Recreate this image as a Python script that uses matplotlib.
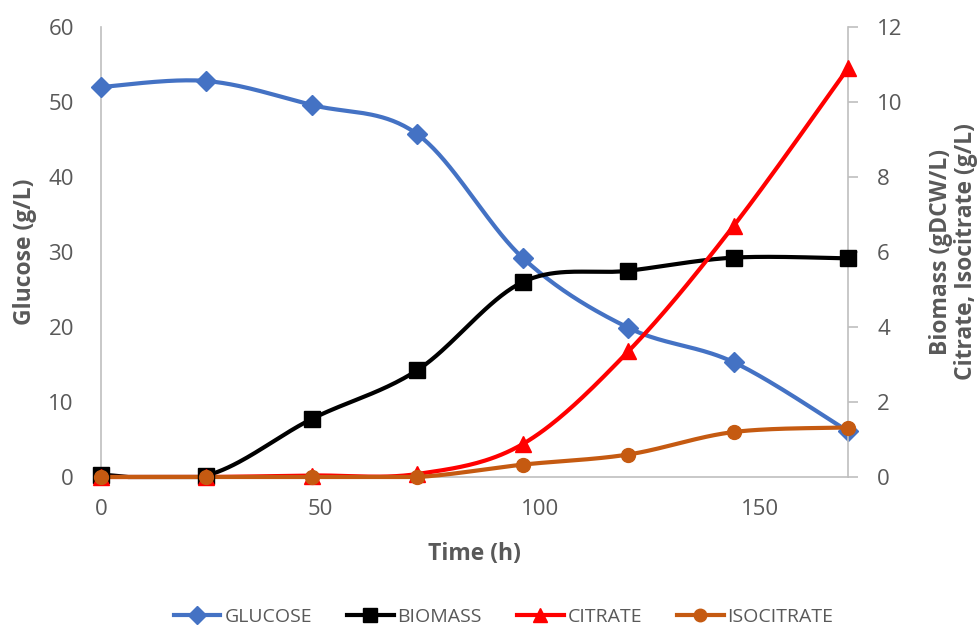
import numpy as np
import matplotlib
matplotlib.use("Agg")
import matplotlib.pyplot as plt
from matplotlib.lines import Line2D

time_h = [0, 24, 48, 72, 96, 120, 144, 170]
glucose = [52.0, 52.8, 49.6, 45.7, 29.2, 19.9, 15.3, 6.1]
biomass = [0.06, 0.04, 1.55, 2.85, 5.2, 5.5, 5.85, 5.83]
citrate = [0.0, 0.0, 0.04, 0.08, 0.88, 3.35, 6.7, 10.9]
isocitrate = [0.0, 0.0, 0.0, 0.0, 0.33, 0.6, 1.2, 1.32]

x_ticks = [0, 50, 100, 150]
left_ticks = [0, 10, 20, 30, 40, 50, 60]
right_ticks = [0, 2, 4, 6, 8, 10, 12]

GREY = "#595959"
AX = "#BFBFBF"
plt.rcParams['font.family'] = ['Open Sans', 'DejaVu Sans']


def smooth(x, y, n=40):
    x = np.asarray(x, float); y = np.asarray(y, float)
    px = np.concatenate([[x[0]], x, [x[-1]]])
    py = np.concatenate([[y[0]], y, [y[-1]]])
    xs, ys = [], []
    t = np.linspace(0, 1, n)
    for i in range(1, len(px) - 2):
        p0 = np.array([px[i], py[i]]); p3 = np.array([px[i + 1], py[i + 1]])
        c1 = p0 + (np.array([px[i + 1], py[i + 1]]) - np.array([px[i - 1], py[i - 1]])) / 6
        c2 = p3 - (np.array([px[i + 2], py[i + 2]]) - np.array([px[i], py[i]])) / 6
        b = ((1 - t) ** 3)[:, None] * p0 + (3 * (1 - t) ** 2 * t)[:, None] * c1 \
            + (3 * (1 - t) * t ** 2)[:, None] * c2 + (t ** 3)[:, None] * p3
        xs.append(b[:, 0]); ys.append(b[:, 1])
    return np.concatenate(xs), np.concatenate(ys)


fig = plt.figure(figsize=(9.78, 6.29), dpi=100)
ax = fig.add_axes([101 / 978, 1 - 477 / 629, (848 - 101) / 978, (477 - 27) / 629])
ax2 = ax.twinx()

lw = 3.0
series = [
    (ax, glucose, "#4472C4", "D", 10, "GLUCOSE"),
    (ax2, biomass, "#000000", "s", 11, "BIOMASS"),
    (ax2, citrate, "#FF0000", "^", 11, "CITRATE"),
    (ax2, isocitrate, "#C55A11", "o", 10, "ISOCITRATE"),
]
handles = []
for a, ys, col, mk, ms, lab in series:
    sx, sy = smooth(time_h, ys)
    sy = np.maximum(sy, 0)
    a.plot(sx, sy, color=col, lw=lw, solid_capstyle='round', clip_on=False, zorder=3)
    a.plot(time_h, ys, linestyle='none', marker=mk, ms=ms, color=col, clip_on=False, zorder=4)
    handles.append(Line2D([], [], color=col, lw=lw, marker=mk, ms=ms - 1, label=lab))

ax.set_xlim(0, 170)
ax.set_ylim(0, 60)
ax2.set_ylim(0, 12)
ax.set_xticks(x_ticks)
ax.set_yticks(left_ticks)
ax2.set_yticks(right_ticks)

for a in (ax, ax2):
    for s in a.spines.values():
        s.set_visible(False)
ax.spines['left'].set_visible(True)
ax.spines['left'].set_color(AX)
ax.spines['bottom'].set_visible(True)
ax.spines['bottom'].set_color(AX)
ax2.spines['right'].set_visible(True)
ax2.spines['right'].set_color(AX)
for s in ('left', 'bottom'):
    ax.spines[s].set_linewidth(1.2)
ax2.spines['right'].set_linewidth(1.2)

ax.tick_params(axis='y', length=0, labelsize=16, labelcolor=GREY, pad=19.5)
ax.tick_params(axis='x', length=0, labelsize=16, labelcolor=GREY, pad=16)
ax2.tick_params(axis='y', length=7, color=AX, width=1.2, labelsize=16, labelcolor=GREY, pad=14)

ax.set_xlabel("Time (h)", fontsize=16.5, fontweight='bold', color=GREY, labelpad=16)
ax.set_ylabel("Glucose (g/L)", fontsize=16.5, fontweight='bold', color=GREY, labelpad=8)
ax2.set_ylabel("Biomass (gDCW/L)\nCitrate, Isocitrate (g/L)", fontsize=16.5, fontweight='bold',
               color=GREY, labelpad=19, linespacing=1.05)

leg = fig.legend(handles=handles, loc='center', bbox_to_anchor=(0.515, 1 - 617 / 629), ncol=4,
                 frameon=False, fontsize=14, handlelength=2.4, columnspacing=1.8, handletextpad=0.2)
for t in leg.get_texts():
    t.set_color(GREY)

fig.savefig("out.png", dpi=100)
